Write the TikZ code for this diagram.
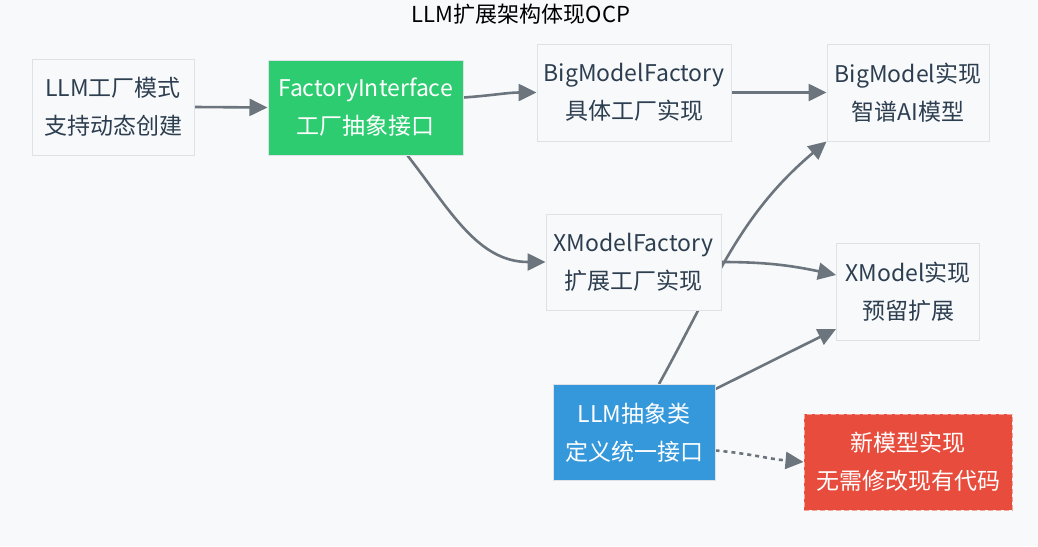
\documentclass[tikz,border=0pt]{standalone}
\usepackage{fontspec}
\setmainfont{Noto Sans CJK SC}
\usetikzlibrary{arrows.meta,backgrounds}
\definecolor{pagebg}{HTML}{F8F9FA}
\definecolor{boxline}{HTML}{DEE2E6}
\definecolor{boxtext}{HTML}{2C3E50}
\definecolor{linkgray}{HTML}{6C757D}
\definecolor{ifgreen}{HTML}{2ECC71}
\definecolor{absblue}{HTML}{3498DB}
\definecolor{newred}{HTML}{E74C3C}
\definecolor{newredline}{HTML}{F4A29A}
\tikzset{
  box/.style={
    draw=boxline,
    line width=1pt,
    fill=pagebg,
    text=boxtext,
    align=center,
    inner sep=0pt,
    font=\fontsize{23}{38}\selectfont
  },
  box-green/.style={box, fill=ifgreen, text=white},
  box-blue/.style={box, fill=absblue, text=white},
  box-red/.style={box, fill=newred, draw=newredline, dash pattern=on 5pt off 3pt, text=white},
  link/.style={draw=linkgray, line width=2.6pt, -{Triangle[length=18pt,width=17pt]}},
  link-dotted/.style={link, dash pattern=on 4pt off 4pt}
}

\begin{document}
\begin{tikzpicture}[x=1pt,y=-1pt]
  \useasboundingbox (0,0) rectangle (1038,546);

  % --- title ---
  \node[font=\fontsize{22}{26}\selectfont, text=black] (title) at (521,14) {LLM扩展架构体现OCP};

  % --- boxes (pixel centres of the reference) ---
  \node[box, minimum width=162pt, minimum height=96pt] (mode) at (113,107) {LLM工厂模式\\支持动态创建};
  \node[box-green, minimum width=195pt, minimum height=95pt] (iface) at (365.5,107.5) {FactoryInterface\\工厂抽象接口};
  \node[box, minimum width=194pt, minimum height=97pt] (bigfac) at (634,92.5) {BigModelFactory\\具体工厂实现};
  \node[box, minimum width=162pt, minimum height=97pt] (bigmodel) at (908,92.5) {BigModel实现\\智谱AI模型};
  \node[box, minimum width=175pt, minimum height=96pt] (xfac) at (633.5,262) {XModelFactory\\扩展工厂实现};
  \node[box, minimum width=143pt, minimum height=97pt] (xmodel) at (908,292) {XModel实现\\预留扩展};
  \node[box-blue, minimum width=162pt, minimum height=96pt] (llm) at (634,432.5) {LLM抽象类\\定义统一接口};
  \node[box-red, minimum width=208pt, minimum height=96pt] (newmodel) at (908,462) {新模型实现\\无需修改现有代码};

  % --- connectors, kept under the boxes ---
  \begin{scope}[on background layer]
    \fill[pagebg] (0,0) rectangle (1038,546);
    \draw[link] (mode.east) -- (iface.west);
    \draw[link] ([yshift=10pt]iface.east) to[out=4,in=180] (bigfac.west);
    \draw[link] (bigfac.east) -- (bigmodel.west);
    \draw[link] ([xshift=42pt]iface.south) to[out=-52,in=180] (xfac.west);
    \draw[link] (xfac.east) to[out=0,in=168] ([yshift=17pt]xmodel.west);
    % runs behind XModelFactory
    \draw[link] ([xshift=25pt]llm.north) to[out=61,in=220] (bigmodel.south west);
    \draw[link] ([yshift=-5pt]llm.north east) -- ([yshift=12pt]xmodel.south west);
    \draw[link-dotted] ([yshift=-18pt]llm.east) to[out=-5,in=175] (newmodel.west);
  \end{scope}
\end{tikzpicture}
\end{document}
